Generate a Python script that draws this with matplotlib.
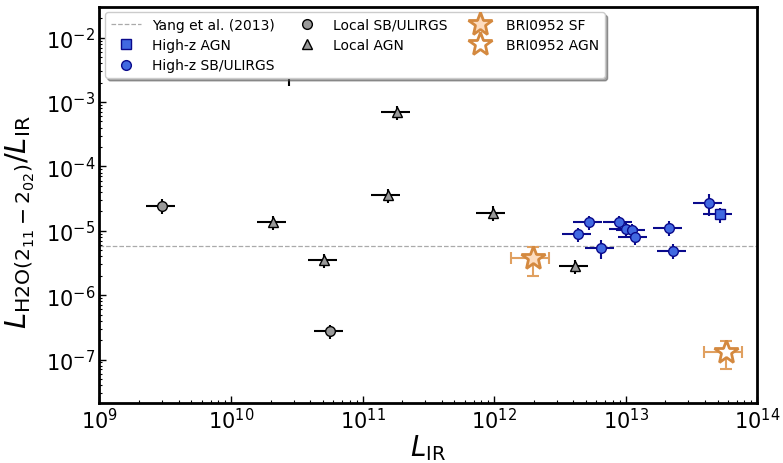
import numpy as np
import matplotlib
matplotlib.use("Agg")
import matplotlib.pyplot as plt

# ---- data ----
yang_ratio = 5.8e-6

local_sb_lir = [3.0e9, 5.7e10]
local_sb_ratio = [2.46e-5, 2.75e-7]

local_agn_lir = [2.1e10, 5.1e10, 1.55e11, 1.83e11, 9.75e11, 4.14e12, 2.78e10]
local_agn_ratio = [1.37e-5, 3.48e-6, 3.6e-5, 7.0e-4, 1.92e-5, 2.85e-6, 3.5e-3]
local_agn_yfrac = [0.25, 0.25, 0.25, 0.25, 0.25, 0.25, 0.49]

hz_sb_lir = [5.3e12, 4.38e12, 6.5e12, 8.9e12, 1.0e13, 1.12e13, 1.17e13, 2.14e13, 2.3e13, 4.3e13]
hz_sb_ratio = [1.37e-5, 8.8e-6, 5.4e-6, 1.37e-5, 1.07e-5, 1.02e-5, 7.9e-6, 1.12e-5, 4.88e-6, 2.71e-5]
hz_sb_yfrac = [0.25, 0.25, 0.32, 0.25, 0.25, 0.25, 0.25, 0.25, 0.26, 0.37]

hz_agn_lir = [5.18e13]
hz_agn_ratio = [1.80e-5]
hz_agn_yfrac = [0.27]

bri_sf_lir = [1.98e12]
bri_sf_ratio = [3.8e-6]
bri_agn_lir = [5.8e13]
bri_agn_ratio = [1.32e-7]
bri_xfrac = 0.32
bri_yfrac = 0.47

xfrac = 0.25

fig = plt.figure(figsize=(7.83, 4.64), dpi=100)
ax = fig.add_axes([0.127, 0.129, 0.840, 0.854])

ax.set_xscale('log')
ax.set_yscale('log')

def err(vals, frac):
    v = np.asarray(vals, float)
    f = np.broadcast_to(np.asarray(frac, float), v.shape)
    return v * f

# Yang line
ax.axhline(yang_ratio, color='#aaaaaa', ls='--', lw=0.9, zorder=1, label='Yang et al. (2013)')

# High-z AGN
ax.errorbar(hz_agn_lir, hz_agn_ratio, xerr=err(hz_agn_lir, xfrac), yerr=err(hz_agn_ratio, hz_agn_yfrac),
            fmt='none', ecolor='#0a0a8c', elinewidth=1.5, zorder=3)
ax.plot(hz_agn_lir, hz_agn_ratio, 's', ms=7, mfc='#4169e1', mec='#0a0a8c', mew=1.0, ls='none',
        zorder=4, label='High-z AGN')

# High-z SB
ax.errorbar(hz_sb_lir, hz_sb_ratio, xerr=err(hz_sb_lir, xfrac), yerr=err(hz_sb_ratio, hz_sb_yfrac),
            fmt='none', ecolor='#0a0a8c', elinewidth=1.5, zorder=3)
ax.plot(hz_sb_lir, hz_sb_ratio, 'o', ms=7, mfc='#4169e1', mec='#0a0a8c', mew=1.0, ls='none',
        zorder=4, label='High-z SB/ULIRGS')

# Local SB
ax.errorbar(local_sb_lir, local_sb_ratio, xerr=err(local_sb_lir, xfrac), yerr=err(local_sb_ratio, xfrac),
            fmt='none', ecolor='black', elinewidth=1.5, zorder=3)
ax.plot(local_sb_lir, local_sb_ratio, 'o', ms=7, mfc='#999999', mec='black', mew=1.0, ls='none',
        zorder=4, label='Local SB/ULIRGS')

# Local AGN
ax.errorbar(local_agn_lir, local_agn_ratio, xerr=err(local_agn_lir, xfrac),
            yerr=err(local_agn_ratio, local_agn_yfrac),
            fmt='none', ecolor='black', elinewidth=1.5, zorder=3)
ax.plot(local_agn_lir, local_agn_ratio, '^', ms=7, mfc='#999999', mec='black', mew=1.0, ls='none',
        zorder=4, label='Local AGN')

# BRI0952
star_col = '#d4893f'
ax.errorbar(bri_sf_lir, bri_sf_ratio, xerr=err(bri_sf_lir, bri_xfrac), yerr=err(bri_sf_ratio, bri_yfrac),
            fmt='none', ecolor='#e0a060', elinewidth=1.5, capsize=4, capthick=1.5, zorder=3)
ax.plot(bri_sf_lir, bri_sf_ratio, '*', ms=18, mfc='#fddcbf', mec=star_col, mew=2.0, ls='none',
        zorder=4, label='BRI0952 SF')
ax.errorbar(bri_agn_lir, bri_agn_ratio, xerr=err(bri_agn_lir, bri_xfrac), yerr=err(bri_agn_ratio, bri_yfrac),
            fmt='none', ecolor='#e0a060', elinewidth=1.5, capsize=4, capthick=1.5, zorder=3)
ax.plot(bri_agn_lir, bri_agn_ratio, '*', ms=18, mfc='white', mec=star_col, mew=2.0, ls='none',
        zorder=4, label='BRI0952 AGN')

ax.set_xlim(1e9, 1e14)
ax.set_ylim(2.1e-8, 3e-2)

ax.set_xlabel(r'$L_{\rm IR}$', fontsize=20, labelpad=0)
ax.set_ylabel(r'$L_{\rm H2O(2_{11}-2_{02})}/L_{\rm IR}$', fontsize=21, labelpad=0)
ax.yaxis.set_label_coords(-0.095, 0.46)

ax.tick_params(which='both', direction='in', labelsize=15)
ax.tick_params(which='major', length=5, width=1)
ax.tick_params(which='minor', length=2.5, width=0.8)
ax.tick_params(axis='x', pad=3)
ax.tick_params(axis='y', pad=3)
for s in ax.spines.values():
    s.set_linewidth(2)

leg = ax.legend(loc='upper left', ncol=3, fontsize=10, frameon=True, fancybox=True, shadow=True,
                borderaxespad=0.4, handlelength=2.2, columnspacing=1.2, labelspacing=0.45)

fig.savefig('out.png', dpi=100)
